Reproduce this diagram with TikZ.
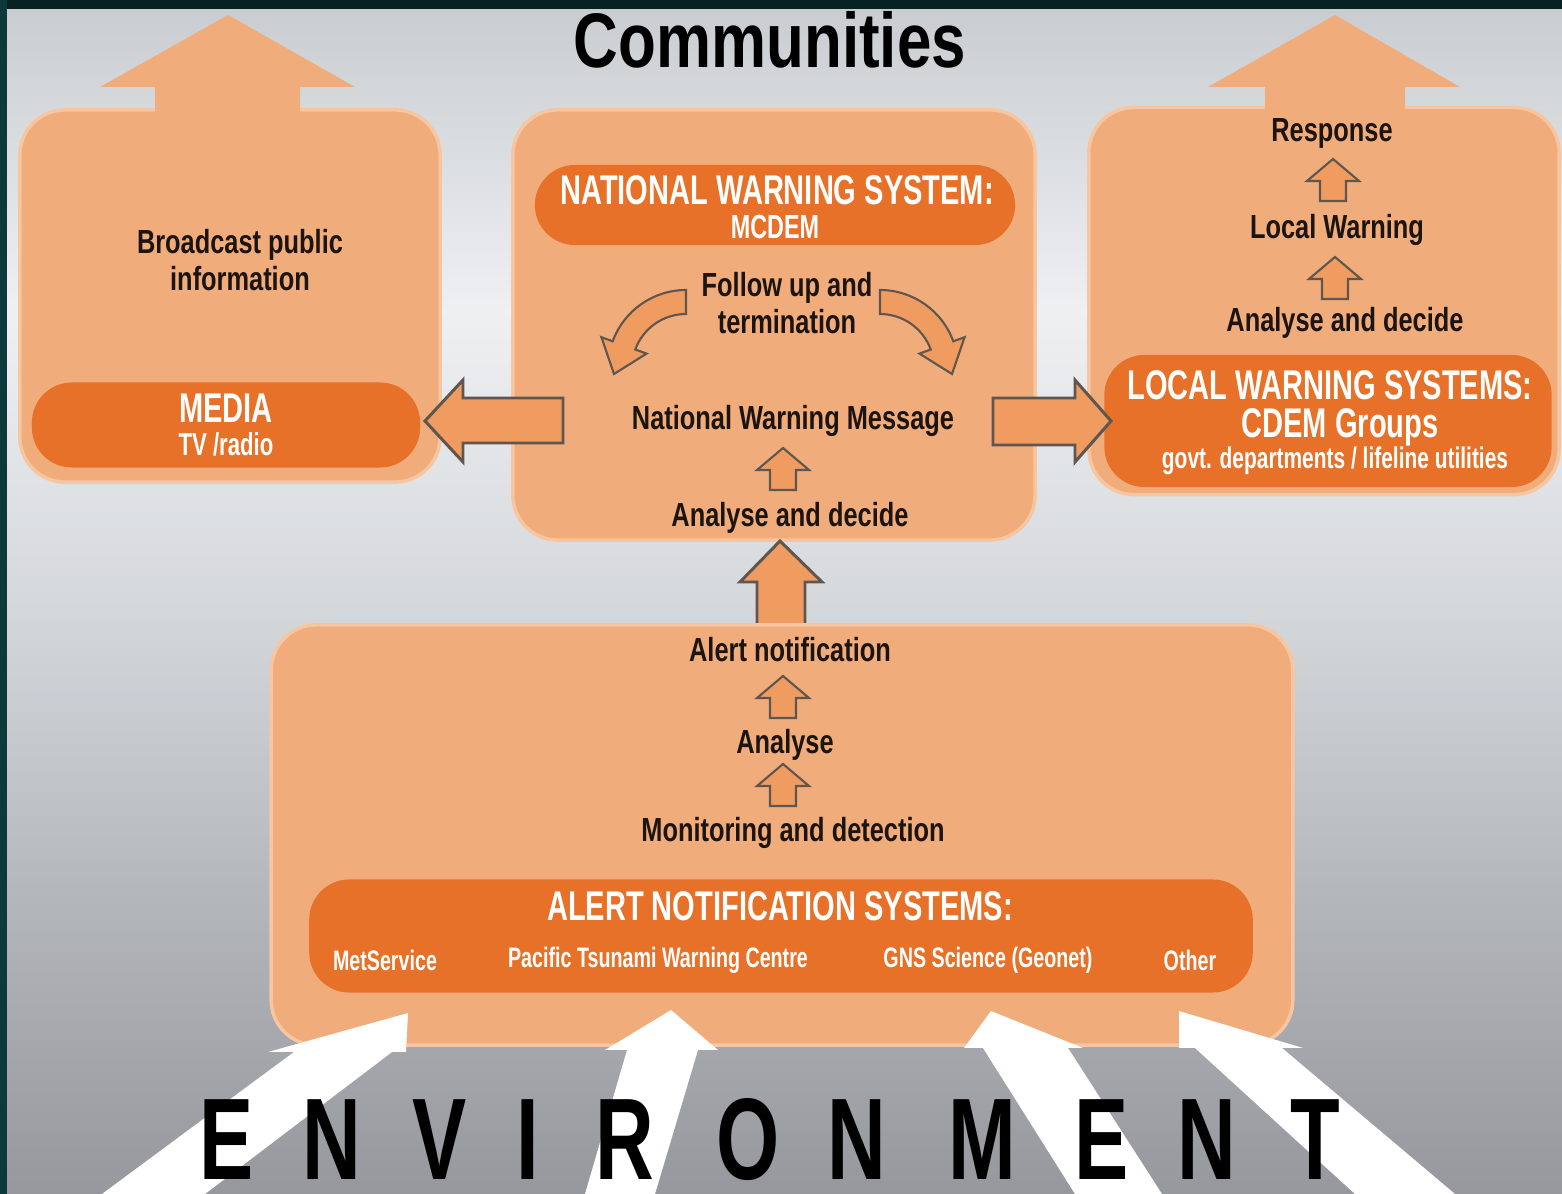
\documentclass[tikz,border=0pt]{standalone}
\usepackage{fontspec}
\setmainfont{Liberation Sans}
\newfontfamily\titlefont[FakeStretch=0.8]{Liberation Sans}
\newfontfamily\headfont[FakeStretch=0.7]{Liberation Sans}
\newfontfamily\labfont[FakeStretch=0.76]{Liberation Sans}

\definecolor{peach}{RGB}{240,172,122}
\definecolor{panelrim}{RGB}{247,198,160}
\definecolor{pillorange}{RGB}{231,113,40}
\definecolor{arroworange}{RGB}{240,156,96}
\definecolor{arrowline}{RGB}{96,86,80}
\definecolor{inkdark}{RGB}{28,20,16}
\definecolor{frametop}{RGB}{8,34,35}
\definecolor{frameleft}{RGB}{12,58,60}
\definecolor{bgbottom}{RGB}{150,152,158}
\definecolor{bglow}{RGB}{178,181,186}
\definecolor{bgmid}{RGB}{214,217,220}
\definecolor{bghigh}{RGB}{238,240,242}
\definecolor{bgtop}{RGB}{200,204,208}

\pgfdeclareverticalshading{backdrop}{100bp}{color(0bp)=(bgbottom); color(25bp)=(bgbottom);
  color(37bp)=(bglow); color(50bp)=(bgmid); color(62bp)=(bghigh); color(75bp)=(bgtop); color(100bp)=(bgtop)}

\tikzset{uparrowsmall/.pic={
  \draw[smallarrow] (-13,0) -- (-13,-20) -- (-26,-20) -- (0,-42) -- (26,-20) -- (13,-20) -- (13,0) -- cycle;}}

\begin{document}
\begin{tikzpicture}
  [x=0.01cm, y=-0.01cm,
  panel/.style={fill=peach, draw=panelrim, line width=1pt, rounded corners=0.45cm, inner sep=0pt},
  pill/.style={fill=pillorange, rounded corners=0.4cm, inner sep=0pt},
  lbl/.style={text=inkdark, inner sep=0pt, align=center, font=\labfont\bfseries\fontsize{9.5}{10.3}\selectfont},
  pilltext/.style={text=white, inner sep=0pt, font=\headfont\bfseries\fontsize{11.8}{12}\selectfont},
  pillsmall/.style={text=white, inner sep=0pt, font=\headfont\bfseries\fontsize{8}{9}\selectfont},
  blockarrow/.style={fill=arroworange, draw=arrowline, line width=0.85pt, line join=miter},
  smallarrow/.style={fill=arroworange, draw=arrowline, line width=0.6pt, line join=miter},
  bendarrow/.style={fill=arroworange, draw=arrowline, line width=0.6pt, line join=miter},
  envarrow/.style={fill=white},
  envletter/.style={anchor=base, inner sep=0pt, text=black, font=\headfont\bfseries\fontsize{33}{33}\selectfont}]

  \useasboundingbox (0,0) rectangle (1562,1194);
  \fill[shading=backdrop] (0,0) rectangle (1562,1194);

  % panels
  \node[panel, minimum width=4.2cm, minimum height=3.72cm] (mediapanel) at (230,296) {};
  \node[panel, minimum width=5.22cm, minimum height=4.3cm] (nationalpanel) at (774,325) {};
  \node[panel, minimum width=4.7cm, minimum height=3.87cm] (localpanel) at (1324,301) {};

  % arrows up to the communities
  \fill[peach] (155,125) -- (155,87) -- (100,87) -- (228,15) -- (355,87) -- (300,87) -- (300,125) -- cycle;
  \fill[peach] (1265,125) -- (1265,87) -- (1208,87) -- (1335,15) -- (1460,87) -- (1405,87) -- (1405,125) -- cycle;

  \draw[blockarrow] (757,636) -- (757,582) -- (740,582) -- (780,541) -- (822,582) -- (805,582) -- (805,636) -- cycle;
  \node[panel, minimum width=10.21cm, minimum height=4.2cm] (alertpanel) at (782,835) {};

  \node[pill, minimum width=3.88cm, minimum height=0.85cm] (mediapill) at (226,425) {};
  \node[pill, minimum width=4.8cm, minimum height=0.8cm] (nationalpill) at (775,205) {};
  \node[pill, minimum width=4.47cm, minimum height=1.32cm] (localpill) at (1328,421) {};
  \node[pill, minimum width=9.43cm, minimum height=1.13cm] (alertpill) at (781,936) {};

  \draw[blockarrow] (563,398) -- (463,398) -- (463,380) -- (425,421) -- (463,462) -- (463,443) -- (563,443) -- cycle;
  \draw[blockarrow] (993,398) -- (1075,398) -- (1075,380) -- (1111,421) -- (1075,462) -- (1075,445) -- (993,445) -- cycle;

  \begin{scope}[shift={(686,368)}]
    \draw[bendarrow] (270:78) arc[start angle=270, end angle=200, radius=78] -- (200:90) -- (-72,6)
      -- (200:42) -- (200:54) arc[start angle=200, end angle=270, radius=54] -- cycle;
  \end{scope}
  \begin{scope}[shift={(880,368)}]
    \draw[bendarrow] (270:78) arc[start angle=270, end angle=340, radius=78] -- (340:90) -- (72,6)
      -- (340:42) -- (340:54) arc[start angle=340, end angle=270, radius=54] -- cycle;
  \end{scope}

  \pic (upmessage) at (783,490) {uparrowsmall};
  \pic (upresponse) at (1333,201) {uparrowsmall};
  \pic (uplocal) at (1335,299) {uparrowsmall};
  \pic (upalert) at (783,718) {uparrowsmall};
  \pic (upanalyse) at (783,806) {uparrowsmall};

  \node[text=black, inner sep=0pt, font=\titlefont\bfseries\fontsize{22}{22}\selectfont] (communities) at (770,40) {Communities};

  \node[lbl] (broadcast) at (240,260) {Broadcast public\\information};
  \node[pilltext] (media) at (226,408) {MEDIA};
  \node[pilltext, font=\headfont\bfseries\fontsize{9}{9}\selectfont] (tvradio) at (226,444) {TV /radio};

  \node[pilltext] (national) at (777,190) {NATIONAL WARNING SYSTEM:};
  \node[pilltext, font=\headfont\bfseries\fontsize{9.5}{9.5}\selectfont] (mcdem) at (775,227) {MCDEM};
  \node[lbl] (followup) at (787,303) {Follow up and\\termination};
  \node[lbl] (nwmessage) at (793,421) {National Warning Message};
  \node[lbl] (nadecide) at (790,518) {Analyse and decide};

  \node[lbl] (response) at (1332,133) {Response};
  \node[lbl] (localwarn) at (1337,230) {Local Warning};
  \node[lbl] (ladecide) at (1345,323) {Analyse and decide};
  \node[pilltext] (localsys) at (1330,385) {LOCAL WARNING SYSTEMS:};
  \node[pilltext] (cdem) at (1340,427) {CDEM Groups};
  \node[pilltext, font=\headfont\bfseries\fontsize{8.5}{8.5}\selectfont] (govt) at (1335,461) {govt. departments / lifeline utilities};

  \node[lbl] (alertnote) at (790,650) {Alert notification};
  \node[lbl] (analyse) at (785,745) {Analyse};
  \node[lbl] (monitoring) at (793,833) {Monitoring and detection};
  \node[pilltext] (alertsys) at (780,906) {ALERT NOTIFICATION SYSTEMS:};
  \node[pillsmall] (metservice) at (385,960) {MetService};
  \node[pillsmall] (ptwc) at (658,960) {Pacific Tsunami Warning Centre};
  \node[pillsmall] (gns) at (988,960) {GNS Science (Geonet)};
  \node[pillsmall] (other) at (1190,960) {Other};

  % environment
  \fill[envarrow] (408,1013) -- (406,1052) -- (392,1052) -- (205,1194) -- (102,1194) -- (294,1052) -- (268,1052) -- cycle;
  \fill[envarrow] (671,1010) -- (718,1050) -- (698,1050) -- (655,1194) -- (585,1194) -- (627,1050) -- (605,1050) -- cycle;
  \fill[envarrow] (991,1011) -- (1083,1048) -- (1068,1048) -- (1162,1194) -- (1075,1194) -- (983,1048) -- (964,1048) -- cycle;
  \fill[envarrow] (1179,1011) -- (1303,1048) -- (1282,1048) -- (1455,1194) -- (1355,1194) -- (1195,1048) -- (1179,1048) -- cycle;

  \foreach \ch/\xx [count=\i] in {E/227, N/332, V/440, I/528, R/625, O/748, N/857, M/982, E/1102, N/1207, T/1315}
    \node[envletter] (env\i) at (\xx,1180) {\ch};

  \fill[frametop] (0,0) rectangle (1562,9);
  \fill[frameleft] (0,0) rectangle (7,1194);
\end{tikzpicture}
\end{document}
